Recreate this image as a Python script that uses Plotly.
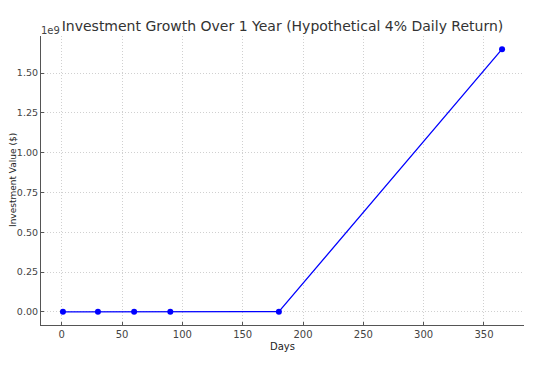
import plotly.graph_objects as go

days = [1, 30, 60, 90, 180, 365]
values = [1040, 3243, 10520, 34119, 1164129, 1650000000]
y_tick_vals = [0, 0.25e9, 0.5e9, 0.75e9, 1.0e9, 1.25e9, 1.5e9]
y_tick_text = ["0.00", "0.25", "0.50", "0.75", "1.00", "1.25", "1.50"]
x_tick_vals = [0, 50, 100, 150, 200, 250, 300, 350]

font = "DejaVu Sans"
fig = go.Figure()
fig.add_trace(go.Scatter(
    x=days, y=values, mode="lines+markers",
    line=dict(color="#0000ff", width=1.3),
    marker=dict(color="#0000ff", size=6),
))
fig.update_layout(
    width=545, height=368,
    margin=dict(l=33, r=29, t=28, b=51, autoexpand=False),
    plot_bgcolor="white", paper_bgcolor="white",
    showlegend=False,
    font=dict(family=font, color="#333333", size=10),
    title=dict(text="Investment Growth Over 1 Year (Hypothetical 4% Daily Return)",
               x=0.5, xanchor="center", y=0.951, yanchor="middle",
               xref="paper", yref="container",
               automargin=False,
               font=dict(family=font, size=14, color="#333333")),
    xaxis=dict(
        range=[-17.2, 383.2], tickvals=x_tick_vals, automargin=False,
        showgrid=True, gridcolor="#d0d0d0", griddash="1px,2px", gridwidth=0.8,
        showline=True, linecolor="#555555", linewidth=1.2, mirror=False,
        zeroline=False, ticks="inside", ticklen=3, tickcolor="#555555",
        title=dict(text="Days", font=dict(size=10, color="#222222"), standoff=3),
        tickfont=dict(size=10, color="#444444"),
    ),
    yaxis=dict(
        range=[-8.25e7, 1.7325e9], tickvals=y_tick_vals, ticktext=y_tick_text,
        automargin=False,
        showgrid=True, gridcolor="#d0d0d0", griddash="1px,2px", gridwidth=0.8,
        showline=True, linecolor="#555555", linewidth=1.2, mirror=False,
        zeroline=False, ticks="inside", ticklen=3, tickcolor="#555555",
        tickfont=dict(size=9.5, color="#444444"),
    ),
    annotations=[
        dict(text="1e9", xref="paper", yref="paper", x=0, y=1,
             xanchor="left", yanchor="bottom", showarrow=False,
             xshift=-2, yshift=-2,
             font=dict(family=font, size=10, color="#444444")),
        dict(text="Investment Value ($)", xref="paper", yref="paper",
             x=-0.059, y=0.5, xanchor="center", yanchor="middle",
             textangle=-90, showarrow=False,
             font=dict(family=font, size=9, color="#222222")),
    ],
)
fig.write_html("out.html")
